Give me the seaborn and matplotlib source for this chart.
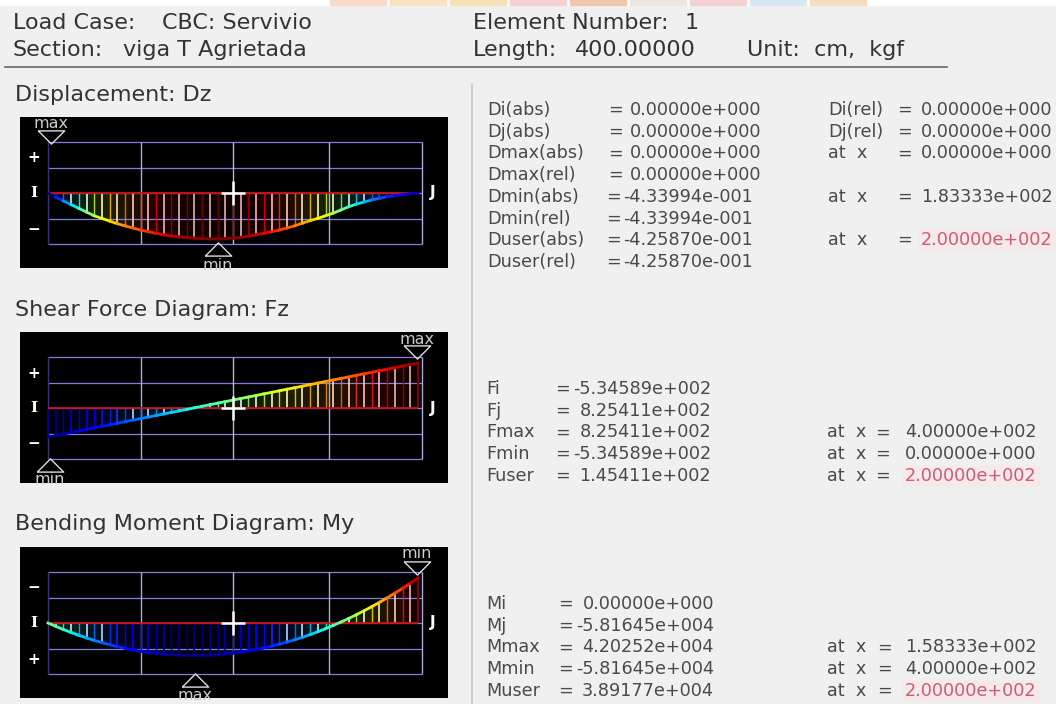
import numpy as np
import pandas as pd
import seaborn as sns
import matplotlib.pyplot as plt
from matplotlib.patches import Rectangle

plt.rcParams['font.family'] = ['DejaVu Sans']

# Diagram values, one every 1/48 of the 400 cm span
dz = [0, -0.04, -0.075, -0.11, -0.145, -0.18, -0.215, -0.24, -0.265, -0.29, -0.31, -0.33, -0.35,
      -0.365, -0.38, -0.395, -0.405, -0.415, -0.42, -0.426, -0.431, -0.433, -0.434, -0.431, -0.426,
      -0.418, -0.408, -0.395, -0.38, -0.365, -0.35, -0.33, -0.31, -0.285, -0.26, -0.24, -0.215,
      -0.19, -0.16, -0.13, -0.105, -0.085, -0.065, -0.05, -0.035, -0.025, -0.015, -0.007, 0]
fz = [-535, -506, -478, -450, -421, -393, -365, -336, -308, -280, -251, -223, -195, -166, -138, -110,
      -81, -53, -25, 4, 32, 60, 89, 117, 145, 174, 202, 230, 259, 287, 315, 344, 372, 400, 429, 457,
      485, 514, 542, 570, 599, 627, 655, 684, 712, 740, 769, 797, 825]
my = [0, 4337, 8438, 12303, 15931, 19323, 22480, 25400, 28084, 30532, 32744, 34720, 36459, 37963,
      39231, 40262, 41057, 41616, 41939, 42025, 41876, 41490, 40867, 40010, 38917, 37587, 36021,
      34219, 32181, 29907, 27396, 24649, 21667, 18448, 14993, 11301, 7374, 3211, -1189, -5824,
      -10696, -15804, -21148, -26728, -32545, -38597, -44885, -51410, -58165]

titles = ['Displacement: Dz', 'Shear Force Diagram: Fz', 'Bending Moment Diagram: My']

d_labels = ['Di(abs)', 'Dj(abs)', 'Dmax(abs)', 'Dmax(rel)', 'Dmin(abs)', 'Dmin(rel)', 'Duser(abs)', 'Duser(rel)']
d_values = ['0.00000e+000', '0.00000e+000', '0.00000e+000', '0.00000e+000',
            '-4.33994e-001', '-4.33994e-001', '-4.25870e-001', '-4.25870e-001']
d_rel_labels = ['Di(rel)', 'Dj(rel)', 'at  x', '', 'at  x', '', 'at  x', '']
d_rel_values = ['0.00000e+000', '0.00000e+000', '0.00000e+000', '', '1.83333e+002', '', '2.00000e+002', '']
f_labels = ['Fi', 'Fj', 'Fmax', 'Fmin', 'Fuser']
f_values = ['-5.34589e+002', '8.25411e+002', '8.25411e+002', '-5.34589e+002', '1.45411e+002']
f_at = ['', '', '4.00000e+002', '0.00000e+000', '2.00000e+002']
m_labels = ['Mi', 'Mj', 'Mmax', 'Mmin', 'Muser']
m_values = ['0.00000e+000', '-5.81645e+004', '4.20252e+004', '-5.81645e+004', '3.89177e+004']
m_at = ['', '', '1.58333e+002', '4.00000e+002', '2.00000e+002']
watermark = ['#f9dcc8', '#f8e2c2', '#f6e3b8', '#f5d2d2', '#f2c6ad', '#ece6e0', '#f5d2d2', '#d8e8f2', '#f7dcc4']

W, H = 1056, 704
fig = plt.figure(figsize=(W / 100, H / 100), dpi=100, facecolor='#f0f0f0')
bg = fig.add_axes([0, 0, 1, 1])
bg.set_xlim(0, W)
bg.set_ylim(H, 0)
bg.axis('off')

jet = plt.get_cmap('jet')
GREY = '#4a4a4a'
DARK = '#333333'
PINK = '#cf5a78'


def put(x, y, s, size=12.7, color=GREY, **kw):
    bg.text(x, y, s, fontsize=size, color=color, va='center', **kw)


def diagram(top, values, blue_at, red_at, scale, flip, base_y, gamma=1.0):
    # black box 428 x 151 px, the beam runs from px 48 to 418
    ax = fig.add_axes([20 / W, 1 - (top + 151) / H, 428 / W, 151 / H])
    ax.set_facecolor('black')
    px = 370 / 400
    ax.set_xlim(-28 / px, 400 / px)
    sign = -1 if flip else 1
    ax.set_ylim(sign * (base_y - top - 151) / scale, sign * (base_y - top) / scale)
    ax.set_xticks([])
    ax.set_yticks([])
    for s in ax.spines.values():
        s.set_visible(False)

    x = np.arange(len(values)) * 400 / 48
    vals = np.array(values)
    ts = ((vals - blue_at) / (red_at - blue_at)) ** gamma
    colors = [jet(float(t))[:3] for t in ts]
    # near the blue end the ordinates stay blue, elsewhere they wash out to white
    pale = [tuple(c if t < 0.2 else 0.3 * c + 0.7 for c in col) for t, col in zip(ts, colors)]

    # frame lines
    ys = [sign * k * 25.5 / scale for k in (-2, -1, 0, 1, 2)]
    ax.hlines(ys, 0, 404, color='#8080e0', lw=0.9)
    for gx, c in zip([0, 100, 200, 304, 404], ['#35357a', '#aaaadd', '#b5b5e5', '#aaaadd', '#aaaadd']):
        ax.vlines(gx, ys[0], ys[-1], color=c, lw=1.0)

    # ordinates
    for i in range(48):
        ax.fill_between(x[i:i + 2], 0, vals[i:i + 2], color=colors[i], alpha=0.12, lw=0)
    ax.vlines(x[1:-1:2], 0, vals[1:-1:2], colors=pale[1:-1:2], lw=1.2)
    ax.vlines(x[2:-1:2], 0, vals[2:-1:2], colors=colors[2:-1:2], lw=1.0, alpha=0.85)
    ax.vlines(x[-1], 0, vals[-1], colors=[colors[-1]], lw=1.5)
    ax.vlines(x[0], 0, vals[0], colors=[colors[0]], lw=1.5)
    ax.hlines(0, 0, 400, color='#cc1010', lw=1.3)

    # coloured curve, one stretch between stations
    seg = pd.DataFrame({
        'x': np.concatenate([x[i:i + 2] for i in range(48)]),
        'v': np.concatenate([values[i:i + 2] for i in range(48)]),
        'part': np.repeat(np.arange(48), 2),
    })
    sns.lineplot(data=seg, x='x', y='v', hue='part', palette=colors[:48], legend=False,
                 lw=2, estimator=None, sort=False, ax=ax)
    ax.set_xlabel('')
    ax.set_ylabel('')

    # pointer for the user station
    ax.plot([200], [0], marker='+', color='white', ms=17, mew=1.8)
    return ax


# white strip along the top with the remains of a watermark
bg.add_patch(Rectangle((0, 0), W, 5, color='white', zorder=0))
for i, c in enumerate(watermark):
    bg.add_patch(Rectangle((330 + i * 60, 0), 56, 5, color=c, zorder=0))

HEAD = 16
put(13, 23, 'Load Case:', size=HEAD, color=DARK)
put(162, 23, 'CBC: Servivio', size=HEAD, color=DARK)
put(13, 50, 'Section:', size=HEAD, color=DARK)
put(123, 50, 'viga T Agrietada', size=HEAD, color=DARK)
put(473, 23, 'Element Number:', size=HEAD, color=DARK)
put(685, 23, '1', size=HEAD, color=DARK)
put(473, 50, 'Length:', size=HEAD, color=DARK)
put(575, 50, '400.00000', size=HEAD, color=DARK)
put(747, 50, 'Unit:  cm,  kgf', size=HEAD, color=DARK)
bg.plot([5, 947], [67, 67], color='#666666', lw=1.2)
bg.plot([472, 472], [84, 704], color='#c8c8c8', lw=1.2)

put(15, 95, titles[0], size=HEAD, color=DARK)
put(15, 310, titles[1], size=HEAD, color=DARK)
put(15, 524, titles[2], size=HEAD, color=DARK)

diagram(117, dz, 0, -0.434, 46 / 0.434, False, 193, gamma=0.75)
diagram(332, fz, -535, 825, 45 / 825, False, 408)
diagram(547, my, 42025, -58165, 45 / 58165, True, 623, gamma=0.85)

# box annotations go on a top layer in pixel coordinates
top = fig.add_axes([0, 0, 1, 1], facecolor='none')
top.set_xlim(0, W)
top.set_ylim(H, 0)
top.axis('off')

FLAT_DOWN = [(-1, 0.5), (1, 0.5), (0, -0.5), (-1, 0.5)]
FLAT_UP = [(-1, -0.5), (1, -0.5), (0, 0.5), (-1, -0.5)]


def mark(ax_x, ax_y, word, text_x, text_y, down):
    top.plot([ax_x], [ax_y], marker=FLAT_DOWN if down else FLAT_UP, ms=19, mfc='none', mec='#dddddd', mew=1.0)
    t = top.text(text_x, text_y, word, color='#cccccc', fontsize=11.5, ha='center', va='center')
    t.set_clip_path(Rectangle((20, 0), 428, 699, transform=top.transData))


mark(51, 137, 'max', 51, 123, True)
mark(218, 249, 'min', 218, 265, False)
mark(417, 352, 'max', 417, 339, True)
mark(50, 465, 'min', 50, 479, False)
mark(417, 568, 'min', 417, 553, True)
mark(195, 680, 'max', 195, 695, False)

for by, signs in zip([193, 408, 623], [('+', '\u2212'), ('+', '\u2212'), ('\u2212', '+')]):
    top.text(34, by - 35, signs[0], color='white', fontsize=11, ha='center', va='center', fontweight='bold')
    top.text(34, by + 36, signs[1], color='white', fontsize=11, ha='center', va='center', fontweight='bold')
    top.text(34, by, 'I', color='white', fontsize=11, ha='center', va='center', family='DejaVu Serif', fontweight='bold')
    top.text(433, by, 'J', color='white', fontsize=11, ha='center', va='center', fontweight='bold')


def value_cell(x, y, s, color=GREY):
    # the user station value is pink with a faint halo
    if color == PINK:
        bg.add_patch(Rectangle((x - 2, y - 10), 136, 20, color='#f5e9e9', zorder=0))
    put(x, y, s, color=color)


# right side tables
for i, (lab, val, lab2, val2) in enumerate(zip(d_labels, d_values, d_rel_labels, d_rel_values)):
    y = 110 + i * 21.7
    put(487, y, lab)
    neg = val.startswith('-')
    put(606 if neg else 608, y, '=')
    put(623 if neg else 630, y, val)
    if lab2:
        put(828, y, lab2)
        put(897, y, '=')
        value_cell(921, y, val2, PINK if i == 6 else GREY)

for i, (lab, val, at) in enumerate(zip(f_labels, f_values, f_at)):
    y = 389 + i * 21.7
    put(486, y, lab)
    put(555, y, '=')
    put(711, y, val, ha='right')
    if at:
        put(827, y, 'at  x')
        put(875, y, '=')
        value_cell(905, y, at, PINK if i == 4 else GREY)

for i, (lab, val, at) in enumerate(zip(m_labels, m_values, m_at)):
    y = 604 + i * 21.7
    put(486, y, lab)
    put(558, y, '=')
    put(714, y, val, ha='right')
    if at:
        put(827, y, 'at  x')
        put(877, y, '=')
        value_cell(905, y, at, PINK if i == 4 else GREY)

fig.savefig('out.png', dpi=100, facecolor=fig.get_facecolor())
